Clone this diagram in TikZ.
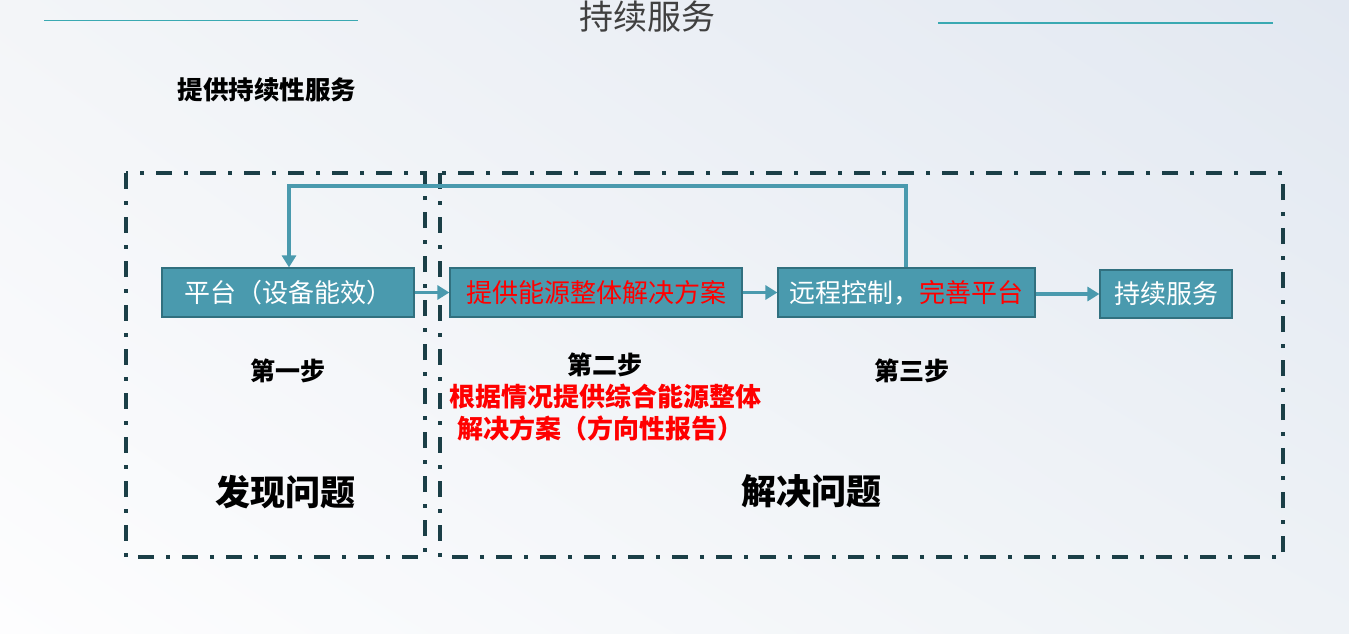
\documentclass[tikz,border=0pt]{standalone}
\usepackage{fontspec}
\newfontfamily\cjk{Noto Sans CJK SC}
\usetikzlibrary{arrows.meta,shadings}
\definecolor{boxfill}{HTML}{4A9AAE}
\definecolor{boxline}{HTML}{31707F}
\definecolor{frame}{HTML}{1B3F47}
\definecolor{deco}{HTML}{3AA9B2}
\definecolor{titlec}{HTML}{404040}
\definecolor{bgUR}{HTML}{E2E8F1}
\definecolor{bgLL}{HTML}{FDFDFE}
\definecolor{bgUL}{HTML}{F3F5F8}
\definecolor{bgLR}{HTML}{EEF2F6}
\tikzset{
  stepbox/.style={draw=boxline, line width=1.2pt, fill=boxfill, inner sep=0pt, minimum height=49pt, text=white, font=\cjk\fontsize{26}{26}\selectfont},
  framebox/.style={draw=frame, line width=4pt, dash pattern=on 16pt off 12pt on 4pt off 12pt},
  flow/.style={draw=boxfill, line width=3.6pt, -{Triangle[length=12pt,width=14pt]}},
  steplbl/.style={font=\cjk\bfseries\fontsize{25}{25}\selectfont, text=black, inner sep=0pt},
  biglbl/.style={font=\cjk\bfseries\fontsize{35}{35}\selectfont, text=black, inner sep=0pt},
  redlbl/.style={font=\cjk\bfseries\fontsize{26}{26}\selectfont, text=red, inner sep=0pt}
}
\begin{document}
\begin{tikzpicture}[x=1pt,y=-1pt]
\useasboundingbox (0,0) rectangle (1349,633);
\shade[lower left=bgLL, upper right=bgUR, upper left=bgUL, lower right=bgLR] (0,0) rectangle (1349,633);
% decorative lines
\draw[deco, line width=1.5pt] (44,20.5) -- (358,20.5);
\draw[deco, line width=1.5pt] (938,23) -- (1273,23);
\node[font=\cjk\fontsize{34}{34}\selectfont, text=titlec, inner sep=0pt] (title) at (647,17) {持续服务};
\node[font=\cjk\bfseries\fontsize{25.5}{25.5}\selectfont, text=black, inner sep=0pt] (sub) at (267,90) {提供持续性服务};
% frames
\draw[framebox] (126,173) rectangle (425,557);
\draw[framebox] (440,173) rectangle (1283,557);
% boxes
\node[stepbox, minimum width=252pt] (b1) at (288,292.5) {平台（设备能效）};
\node[stepbox, minimum width=292pt, text=red] (b2) at (596,292.5) {提供能源整体解决方案};
\node[stepbox, minimum width=257pt] (b3) at (906.5,292.5) {远程控制，\textcolor{red}{完善平台}};
\node[stepbox, minimum width=132pt, minimum height=48pt] (b4) at (1166,294) {持续服务};
% arrows
\draw[flow] (b1.east) -- (b2.west);
\draw[flow] (b2.east) -- (b3.west);
\draw[flow] (b3.east |- b4.west) -- (b4.west);
\coordinate (fbR) at (906,186);
\coordinate (fbL) at (289,186);
\draw[flow] (b3.north -| fbR) -- (fbR) -- (fbL) -- (b1.north -| fbL);
% labels
\node[steplbl] (s1) at (288,371) {第一步};
\node[steplbl] (s2) at (605,365) {第二步};
\node[steplbl] (s3) at (912,371) {第三步};
\node[redlbl] (r1) at (605,397) {根据情况提供综合能源整体};
\node[redlbl] (r2) at (600,428) {解决方案（方向性报告）};
\node[biglbl] (p1) at (285,492) {发现问题};
\node[biglbl] (p2) at (811,491) {解决问题};
\end{tikzpicture}
\end{document}
